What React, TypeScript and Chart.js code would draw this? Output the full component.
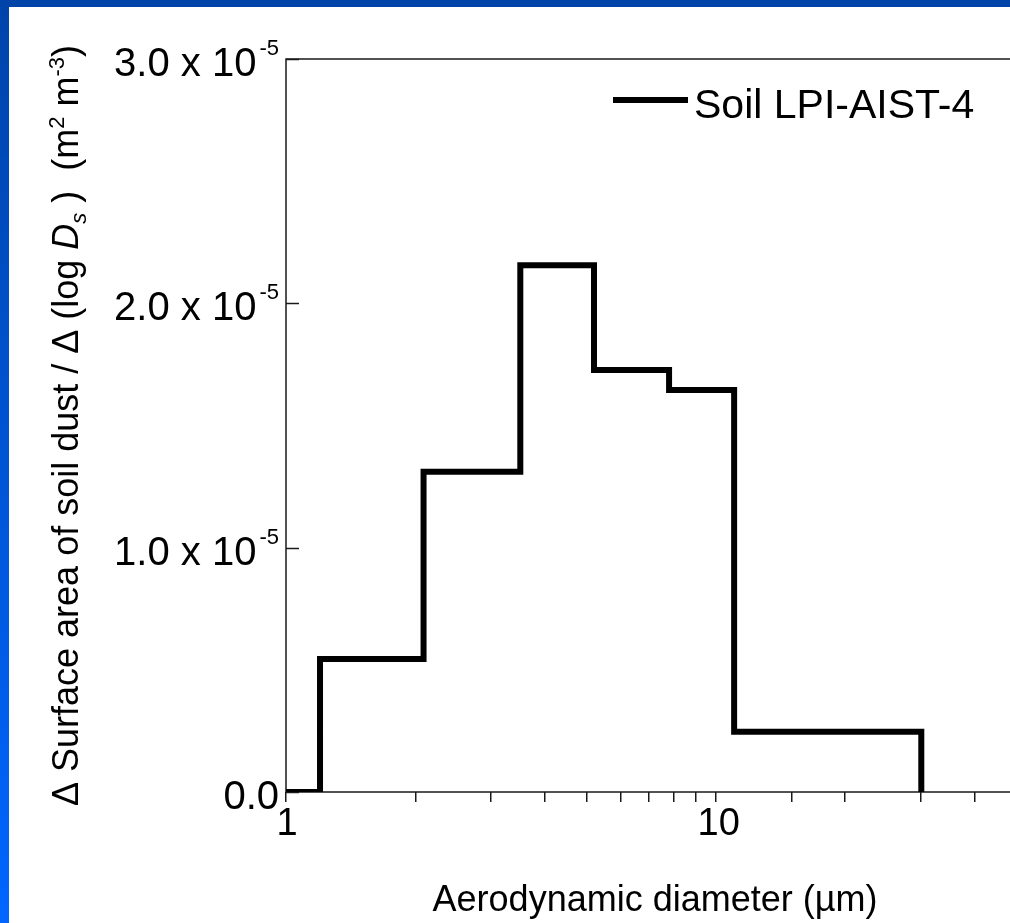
import React, { useEffect, useRef } from 'react';
import { Chart, registerables } from 'chart.js';

Chart.register(...registerables);

// ---- data ----
const binEdges = [1, 1.2, 2.09, 3.51, 5.21, 7.79, 11.04, 30.1];
const surfaceArea = [0, 0.544e-5, 1.311e-5, 2.156e-5, 1.727e-5, 1.645e-5, 0.247e-5]; // one per bin
const seriesLabel = 'Soil LPI-AIST-4';
const xLabelledTicks = [1, 10];
const yTickValues = [0, 1e-5, 2e-5, 3e-5];
const yTickMantissa = ['0.0', '1.0 x 10', '2.0 x 10', '3.0 x 10'];
const yTickExponent = ['', '-5', '-5', '-5'];
const xTitle = 'Aerodynamic diameter (µm)';

const FONT = '"Liberation Sans", Arial, Helvetica, sans-serif';

type Seg = { t: string; font: string; dy?: number; gap?: number };

function drawRich(ctx: CanvasRenderingContext2D, segs: Seg[], x: number, y: number, align: 'left' | 'center' | 'right') {
  const widths = segs.map((s) => {
    ctx.font = s.font;
    return ctx.measureText(s.t).width + (s.gap || 0);
  });
  const total = widths.reduce((a, b) => a + b, 0);
  let cx = align === 'left' ? x : align === 'center' ? x - total / 2 : x - total;
  ctx.textAlign = 'left';
  ctx.textBaseline = 'alphabetic';
  segs.forEach((s, i) => {
    ctx.font = s.font;
    ctx.fillText(s.t, cx + (s.gap || 0), y + (s.dy || 0));
    cx += widths[i];
  });
  return total;
}

const framePlugin = {
  id: 'frame',
  beforeDatasetsDraw(chart: any) {
    const { ctx, chartArea: a, scales } = chart;
    const y = scales.y;
    ctx.save();
    ctx.strokeStyle = '#1a1a1a';
    ctx.lineWidth = 1.5;
    ctx.strokeRect(a.left, a.top, a.right - a.left, a.bottom - a.top);
    yTickValues.forEach((v) => {
      const py = Math.round(y.getPixelForValue(v)) + 0.5;
      ctx.beginPath();
      ctx.moveTo(a.left, py);
      ctx.lineTo(a.left + 13, py);
      ctx.stroke();
    });
    ctx.restore();
  },
  afterDraw(chart: any) {
    const { ctx, chartArea: a, scales } = chart;
    const x = scales.x;
    const y = scales.y;
    ctx.save();
    ctx.fillStyle = '#000';

    // y tick labels with exponents
    const N40 = `40px ${FONT}`;
    const S22 = `22px ${FONT}`;
    yTickValues.forEach((v, i) => {
      const py = y.getPixelForValue(v);
      const segs: Seg[] = [{ t: yTickMantissa[i], font: N40 }];
      if (yTickExponent[i]) segs.push({ t: yTickExponent[i], font: S22, dy: -21, gap: 3 });
      drawRich(ctx, segs, a.left - 7, py + 17, 'right');
    });

    // x tick labels
    xLabelledTicks.forEach((v) => {
      const px = x.getPixelForValue(v);
      drawRich(ctx, [{ t: String(v), font: `38px ${FONT}` }], px + (v >= 10 ? 3 : 1), a.bottom + 43, 'center');
    });

    // x title
    drawRich(ctx, [{ t: xTitle, font: `36px ${FONT}` }], (a.left + a.right) / 2 + 4, a.bottom + 119, 'center');

    // y title (rotated)
    const N = `36px ${FONT}`;
    const I = `italic 36px ${FONT}`;
    const S = `22px ${FONT}`;
    const SI = `italic 22px ${FONT}`;
    ctx.save();
    ctx.translate(78, (a.top + a.bottom) / 2);
    ctx.rotate(-Math.PI / 2);
    drawRich(
      ctx,
      [
        { t: 'Δ Surface area of soil dust / Δ (log ', font: N },
        { t: 'D', font: I },
        { t: 's', font: SI, dy: 8 },
        { t: ' )  (m', font: N },
        { t: '2', font: S, dy: -14 },
        { t: ' m', font: N },
        { t: '-3', font: S, dy: -14 },
        { t: ')', font: N },
      ],
      0,
      0,
      'center'
    );
    ctx.restore();

    // legend
    const ds = chart.data.datasets[0];
    ctx.strokeStyle = ds.borderColor;
    ctx.lineWidth = 6;
    ctx.beginPath();
    ctx.moveTo(a.left + 327, a.top + 41);
    ctx.lineTo(a.left + 402, a.top + 41);
    ctx.stroke();
    drawRich(ctx, [{ t: ds.label, font: `41px ${FONT}` }], a.left + 408, a.top + 59, 'left');

    ctx.restore();
  },
};

export default function App() {
  const canvasRef = useRef<HTMLCanvasElement | null>(null);

  useEffect(() => {
    const canvas = canvasRef.current;
    if (!canvas) return;
    const points = binEdges.map((e, i) => ({ x: e, y: i < surfaceArea.length ? surfaceArea[i] : 0 }));
    const chart = new Chart(canvas, {
      type: 'line',
      data: {
        datasets: [
          {
            label: seriesLabel,
            data: points,
            borderColor: '#000000',
            borderWidth: 6,
            stepped: true,
            pointRadius: 0,
            fill: false,
            borderJoinStyle: 'miter',
            borderCapStyle: 'butt',
          } as any,
        ],
      },
      options: {
        responsive: false,
        maintainAspectRatio: false,
        animation: false,
        layout: { padding: { left: 286, top: 59, right: 14, bottom: 121 } },
        plugins: { legend: { display: false }, tooltip: { enabled: false } },
        scales: {
          x: {
            type: 'logarithmic',
            min: 1,
            max: 50,
            ticks: { display: false, autoSkip: false },
            grid: { display: true, drawOnChartArea: false, drawTicks: true, tickLength: 10, color: '#1a1a1a', lineWidth: 1.5 },
            border: { display: false },
            title: { display: false },
          },
          y: {
            type: 'linear',
            min: 0,
            max: 3e-5,
            ticks: { display: false, stepSize: 1e-5 },
            grid: { display: false, drawTicks: false },
            border: { display: false },
            title: { display: false },
          },
        },
      },
      plugins: [framePlugin],
    });
    return () => chart.destroy();
  }, []);

  return (
    <div style={{ position: 'fixed', left: 0, top: 0, width: 1010, height: 923, overflow: 'hidden', background: '#ffffff' }}>
      <canvas ref={canvasRef} width={1030} height={923} style={{ position: 'absolute', left: 0, top: 0, width: 1030, height: 923 }} />
      <div style={{ position: 'absolute', left: 0, top: 0, width: 1010, height: 7, background: '#0044aa' }} />
      <div style={{ position: 'absolute', left: 0, top: 0, width: 9, height: 923, background: 'linear-gradient(to bottom, #0044aa, #0066ff)' }} />
    </div>
  );
}
